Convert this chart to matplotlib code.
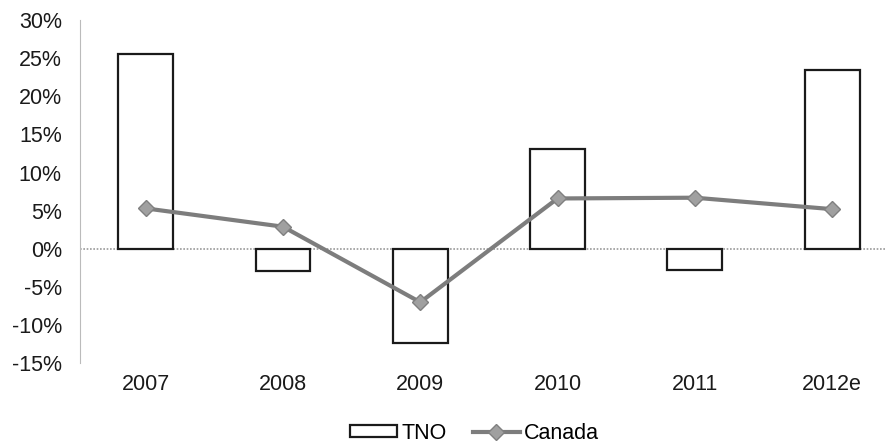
import matplotlib.pyplot as plt
from matplotlib.ticker import FuncFormatter

plt.rcParams['font.family'] = ['Liberation Sans', 'DejaVu Sans']

years = ['2007', '2008', '2009', '2010', '2011', '2012e']
tno = [25.6, -2.9, -12.4, 13.1, -2.8, 23.5]
canada = [5.3, 2.9, -7.0, 6.6, 6.7, 5.2]


def main():
    fig = plt.figure(figsize=(8.87, 4.43), dpi=100)
    ax = fig.add_axes([0.09, 0.18, 0.91, 0.775])

    x = range(len(years))
    bars = ax.bar(x, tno, width=0.4, color='white', edgecolor='#1a1a1a',
                  linewidth=1.6, label='TNO', zorder=2)
    line, = ax.plot(x, canada, color='#7d7d7d', linewidth=3, marker='D',
                    markersize=8, markerfacecolor='#a0a0a0',
                    markeredgecolor='#808080', label='Canada', zorder=3)

    ax.set_ylim(-15, 30)
    ax.set_yticks(range(-15, 31, 5))
    ax.yaxis.set_major_formatter(FuncFormatter(lambda v, p: f'{v:.0f}%'))
    ax.set_xlim(-0.48, 5.4)
    ax.set_xticks(list(x))
    ax.set_xticklabels(years)

    ax.axhline(0, color='#999999', linewidth=1.2, linestyle=(0, (1, 1)), zorder=1)
    for s in ['top', 'right', 'bottom']:
        ax.spines[s].set_visible(False)
    ax.spines['left'].set_color('#bbbbbb')
    ax.spines['left'].set_linestyle((0, (1, 1)))
    ax.tick_params(axis='both', length=0, labelsize=15.5, colors='#1a1a1a')
    ax.tick_params(axis='x', pad=8)
    ax.tick_params(axis='y', pad=13)

    fig.legend([bars, line], ['TNO', 'Canada'], loc='lower center',
               bbox_to_anchor=(0.535, -0.045), ncol=2, frameon=False,
               fontsize=15.5, handlelength=2.2, handleheight=0.5,
               handletextpad=0.2, columnspacing=1.2)

    fig.savefig('out.png', dpi=100)


if __name__ == '__main__':
    main()
